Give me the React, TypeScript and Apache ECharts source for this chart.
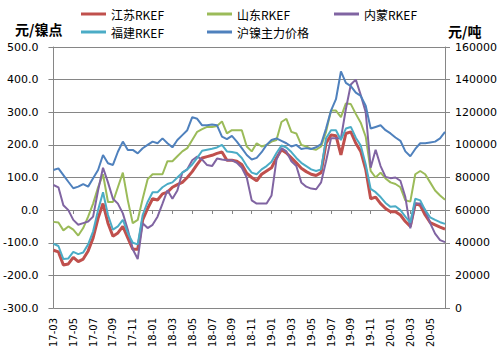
import React, { useEffect, useRef } from "react";
import * as echarts from "echarts";

const dates = [
  "2017-03-01","2017-03-16","2017-04-01","2017-04-16","2017-05-01","2017-05-16","2017-06-01","2017-06-16",
  "2017-07-01","2017-07-16","2017-08-01","2017-08-16","2017-09-01","2017-09-16","2017-10-01","2017-10-16",
  "2017-11-01","2017-11-16","2017-12-01","2017-12-16","2018-01-01","2018-01-16","2018-02-01","2018-02-16",
  "2018-03-01","2018-03-16","2018-04-01","2018-04-16","2018-05-01","2018-05-16","2018-06-01","2018-06-16",
  "2018-07-01","2018-07-16","2018-08-01","2018-08-16","2018-09-01","2018-09-16","2018-10-01","2018-10-16",
  "2018-11-01","2018-11-16","2018-12-01","2018-12-16","2019-01-01","2019-01-16","2019-02-01","2019-02-16",
  "2019-03-01","2019-03-16","2019-04-01","2019-04-16","2019-05-01","2019-05-16","2019-06-01","2019-06-16",
  "2019-07-01","2019-07-16","2019-08-01","2019-08-16","2019-09-01","2019-09-16","2019-10-01","2019-10-16",
  "2019-11-01","2019-11-16","2019-12-01","2019-12-16","2020-01-01","2020-01-16","2020-02-01","2020-02-16",
  "2020-03-01","2020-03-16","2020-04-01","2020-04-16","2020-05-01","2020-05-16","2020-06-01","2020-06-16",
];

const jiangsu = [
  -123,-128,-168,-165,-145,-158,-150,-125,-85,-25,20,-40,-80,-70,-50,-85,-120,-120,-30,5,
  35,31,50,55,70,78,85,100,118,140,160,164,168,174,178,153,153,150,140,113,
  100,90,110,120,130,160,185,175,160,145,128,118,110,106,115,205,230,228,169,235,
  240,205,180,125,35,40,20,5,-5,-5,-15,-35,-50,20,15,-15,-38,-45,-52,-58,
];
const shandong = [
  -36,-38,-62,-50,-60,-78,-55,-20,20,70,110,25,25,70,115,30,-40,-30,35,95,
  110,110,110,150,150,165,180,190,215,240,248,255,255,258,272,235,245,245,245,195,
  180,205,195,200,210,215,270,280,240,235,200,195,188,185,195,240,305,305,285,327,
  325,295,268,225,120,100,115,97,85,80,70,30,26,110,120,110,85,60,45,32,
];
const neimeng = [
  77,70,15,0,-30,-45,-40,-35,-20,60,130,85,35,20,-10,-60,-120,-150,-40,-55,
  -45,-20,20,61,35,60,115,125,153,164,155,138,135,158,155,153,153,145,130,100,
  30,20,20,20,45,155,190,180,150,135,85,72,66,64,85,150,220,220,220,310,
  385,400,353,300,130,185,135,102,98,100,90,40,-56,20,20,0,-40,-72,-92,-98,
];
const fujian = [
  -103,-110,-150,-148,-128,-135,-130,-105,-65,0,55,-15,-60,-50,-30,-70,-100,-105,-15,25,
  55,55,70,80,85,100,115,125,140,160,182,185,188,192,200,180,178,175,160,135,
  115,110,125,135,148,175,198,192,178,160,145,135,125,120,125,220,245,245,215,250,
  255,222,198,140,65,55,40,22,10,12,0,-20,-38,35,30,0,-22,-30,-37,-42,
];
const huNickel = [
  84600,85600,81500,77400,73400,74400,76000,74400,79500,84600,93800,88700,87700,95800,102000,96900,96900,94800,97900,100000,
  102000,101000,104000,101000,98500,103000,106000,109000,117000,116000,112000,112000,112500,112000,105000,103500,105500,102000,98000,93800,
  91000,92000,95500,100000,103000,104000,102500,101000,99000,100000,97500,98000,97500,98500,100500,110000,121000,128000,145000,138000,
  136000,132000,130000,124000,110000,111000,112000,109000,107000,104500,102500,96000,93000,97500,101000,101000,101500,102000,104000,108000,
];

const seriesNames = ["江苏RKEF", "山东RKEF", "内蒙RKEF", "福建RKEF", "沪镍主力价格"];
const leftTitle = "元/镍点";
const rightTitle = "元/吨";

const COLORS = {
  red: "#C0504D",
  green: "#9BBB59",
  purple: "#8064A2",
  cyan: "#4BACC6",
  blue: "#4F81BD",
};
const GRAY = "#868686";
const NUM_FONT = "DejaVu Sans";
const CJK_FONT = "Noto Sans CJK SC";

export default function App() {
  const ref = useRef<HTMLDivElement>(null);

  useEffect(() => {
    if (!ref.current) return;
    const chart = echarts.init(ref.current, undefined, { renderer: "svg" });

    const legendPos = [
      { left: 81, top: 7 },
      { left: 207, top: 7 },
      { left: 334, top: 7 },
      { left: 81, top: 25 },
      { left: 207, top: 25 },
    ];

    const option: any = {
      animation: false,
      backgroundColor: "#ffffff",
      grid: { left: 52, right: 54, top: 47, bottom: 51, containLabel: false },
      legend: seriesNames.map((n, i) => ({
        data: [n],
        left: legendPos[i].left,
        top: legendPos[i].top,
        padding: 0,
        icon: "rect",
        itemWidth: 25,
        itemHeight: 3,
        selectedMode: false,
        textStyle: { fontFamily: CJK_FONT, fontSize: 12, color: "#000", lineHeight: 14 },
      })),
      graphic: [
        {
          type: "text",
          left: 15,
          top: 22,
          style: { text: leftTitle, font: `bold 14px "${CJK_FONT}"`, fill: "#000" },
        },
        {
          type: "text",
          left: 448,
          top: 24,
          style: { text: rightTitle, font: `bold 14px "${CJK_FONT}"`, fill: "#000" },
        },
      ],
      xAxis: [
        {
          type: "category",
          data: dates,
          boundaryGap: false,
          position: "bottom",
          axisLine: { show: false, onZero: false },
          axisTick: { show: false },
          axisLabel: {
            interval: 3,
            rotate: 90,
            margin: 10,
            fontFamily: NUM_FONT,
            fontSize: 10,
            color: "#000",
            formatter: (v: string) => v.slice(2, 7),
          },
          splitLine: { show: false },
        },
        {
          type: "category",
          data: dates,
          boundaryGap: false,
          position: "bottom",
          offset: -98,
          axisLine: { show: false, onZero: false },
          axisTick: { show: true, interval: 3, length: 4, lineStyle: { color: GRAY } },
          axisLabel: { show: false },
          splitLine: { show: false },
        },
      ],
      yAxis: [
        {
          type: "value",
          min: -300,
          max: 500,
          interval: 100,
          position: "left",
          axisLine: { show: true, lineStyle: { color: GRAY } },
          axisTick: { show: true, length: 5, lineStyle: { color: GRAY } },
          axisLabel: {
            margin: 15,
            fontFamily: NUM_FONT,
            fontSize: 11,
            color: "#000",
            formatter: (v: number) => v.toFixed(1),
          },
          splitLine: { show: true, lineStyle: { color: GRAY, width: 1 } },
        },
        {
          type: "value",
          min: 0,
          max: 160000,
          interval: 20000,
          position: "right",
          axisLine: { show: true, lineStyle: { color: GRAY } },
          axisTick: { show: true, length: 5, lineStyle: { color: GRAY } },
          axisLabel: {
            margin: 10,
            fontFamily: NUM_FONT,
            fontSize: 11,
            color: "#000",
            formatter: (v: number) => String(v),
          },
          splitLine: { show: false },
        },
      ],
      series: [
        { name: seriesNames[0], data: jiangsu, color: COLORS.red, width: 3 },
        { name: seriesNames[1], data: shandong, color: COLORS.green, width: 2 },
        { name: seriesNames[2], data: neimeng, color: COLORS.purple, width: 2 },
        { name: seriesNames[3], data: fujian, color: COLORS.cyan, width: 2 },
        { name: seriesNames[4], data: huNickel, color: COLORS.blue, width: 2, yAxisIndex: 1 },
      ].map((s) => ({
        name: s.name,
        type: "line",
        data: s.data,
        xAxisIndex: 0,
        yAxisIndex: s.yAxisIndex ?? 0,
        showSymbol: false,
        symbol: "none",
        color: s.color,
        itemStyle: { color: s.color },
        lineStyle: { color: s.color, width: s.width },
      })),
    };

    chart.setOption(option);
    return () => chart.dispose();
  }, []);

  return (
    <div
      ref={ref}
      style={{ position: "absolute", left: 0, top: 0, width: 500, height: 359 }}
    />
  );
}
